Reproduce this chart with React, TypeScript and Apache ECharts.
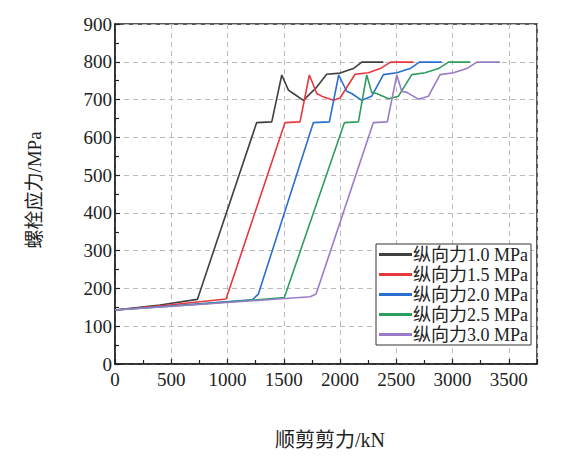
import React, { useEffect, useRef } from "react";
import * as echarts from "echarts";

const seriesNames = ["纵向力1.0 MPa", "纵向力1.5 MPa", "纵向力2.0 MPa", "纵向力2.5 MPa", "纵向力3.0 MPa"];
const seriesColors = ["#404040", "#e8383d", "#2a6fcf", "#2e9e5e", "#9a7bc9"];

const xTicks = [0, 500, 1000, 1500, 2000, 2500, 3000, 3500];
const yTicks = [0, 100, 200, 300, 400, 500, 600, 700, 800, 900];

const x10 = [0, 400, 732, 1259, 1393, 1482, 1541, 1585, 1674, 1793, 1881, 2000, 2118, 2193, 2385];
const y10 = [143, 156, 171, 639, 641, 765, 725, 716, 698, 733, 767, 770, 782, 799, 799];

const x15 = [0, 500, 987, 1511, 1644, 1727, 1793, 1837, 1941, 2000, 2133, 2252, 2356, 2450, 2652];
const y15 = [143, 157, 172, 639, 641, 765, 716, 709, 698, 704, 767, 771, 782, 799, 799];

const x20 = [0, 600, 1220, 1274, 1763, 1905, 1988, 2059, 2103, 2193, 2281, 2385, 2504, 2622, 2705, 2904];
const y20 = [143, 156, 170, 185, 639, 641, 765, 722, 716, 698, 709, 766, 771, 782, 799, 799];

const x25 = [0, 750, 1505, 2039, 2163, 2237, 2281, 2326, 2430, 2519, 2637, 2756, 2874, 2963, 3156];
const y25 = [143, 158, 176, 639, 641, 765, 719, 716, 702, 709, 766, 771, 782, 799, 799];

const x30 = [0, 870, 1733, 1787, 2296, 2420, 2504, 2548, 2593, 2696, 2785, 2889, 3007, 3126, 3215, 3422];
const y30 = [143, 160, 178, 185, 639, 641, 765, 722, 719, 701, 709, 766, 771, 782, 799, 799];

const allX = [x10, x15, x20, x25, x30];
const allY = [y10, y15, y20, y25, y30];

const FONT = "'Times New Roman', 'Liberation Serif', 'Noto Sans CJK SC', serif";

export default function App() {
  const ref = useRef<HTMLDivElement>(null);
  useEffect(() => {
    if (!ref.current) return;
    const chart = echarts.init(ref.current, undefined, { renderer: "svg" });
    const series = seriesNames.map((name, i) => ({
      name,
      type: "line",
      data: allX[i].map((x, j) => [x, allY[i][j]]),
      showSymbol: false,
      symbol: "none",
      lineStyle: { color: seriesColors[i], width: 1.6 },
      itemStyle: { color: seriesColors[i] },
    }));
    chart.setOption({
      animation: false,
      backgroundColor: "#ffffff",
      grid: {
        left: 115,
        right: 31,
        top: 24,
        bottom: 92,
        show: true,
        borderColor: "#222",
        borderWidth: 1.5,
        backgroundColor: "transparent",
      },
      xAxis: {
        type: "value",
        min: 0,
        max: 3750,
        interval: 500,
        axisLine: { show: true, lineStyle: { color: "#222", width: 1.5 } },
        axisTick: { show: true, inside: true, length: 5, lineStyle: { color: "#222", width: 1.2 } },
        minorTick: { show: true, splitNumber: 2, length: 4, lineStyle: { color: "#222", width: 1.2 } },
        splitLine: { show: true, lineStyle: { color: "#bbbbbb", type: [5, 4], width: 1 } },
        axisLabel: {
          fontFamily: FONT,
          fontSize: 19,
          color: "#222",
          margin: 6,
          formatter: (v: number) => (xTicks.includes(v) ? String(v) : ""),
          showMaxLabel: false,
        },
      },
      yAxis: {
        type: "value",
        min: 0,
        max: 900,
        interval: 100,
        axisLine: { show: true, lineStyle: { color: "#222", width: 1.5 } },
        axisTick: { show: true, inside: true, length: 5, lineStyle: { color: "#222", width: 1.2 } },
        minorTick: { show: true, splitNumber: 2, length: 4, lineStyle: { color: "#222", width: 1.2 } },
        splitLine: { show: true, lineStyle: { color: "#bbbbbb", type: [5, 4], width: 1 } },
        axisLabel: {
          fontFamily: FONT,
          fontSize: 19,
          color: "#222",
          margin: 3,
          formatter: (v: number) => (yTicks.includes(v) ? String(v) : ""),
        },
      },
      legend: {
        data: seriesNames,
        orient: "vertical",
        left: 376,
        top: 244,
        width: 160,
        backgroundColor: "#ffffff",
        borderColor: "#333",
        borderWidth: 1,
        padding: [1, 3, 1, 3],
        itemGap: 1,
        itemWidth: 33,
        itemHeight: 3,
        icon: "rect",
        textStyle: { fontFamily: FONT, fontSize: 18, color: "#222", lineHeight: 19, padding: [0, 0, 0, -4] },
      },
      graphic: [
        {
          type: "text",
          x: 34,
          y: 190,
          rotation: Math.PI / 2,
          style: {
            text: "螺栓应力/MPa",
            fontFamily: FONT,
            fontSize: 19,
            fill: "#222",
            align: "center",
            verticalAlign: "middle",
          },
        },
        {
          type: "text",
          x: 330,
          y: 440,
          style: {
            text: "顺剪剪力/kN",
            fontFamily: FONT,
            fontSize: 20,
            fill: "#222",
            align: "center",
            verticalAlign: "middle",
          },
        },
      ],
      series,
    });
    return () => chart.dispose();
  }, []);
  return (
    <div
      ref={ref}
      style={{ position: "fixed", left: 0, top: 0, width: 568, height: 456, background: "#fff" }}
    />
  );
}
